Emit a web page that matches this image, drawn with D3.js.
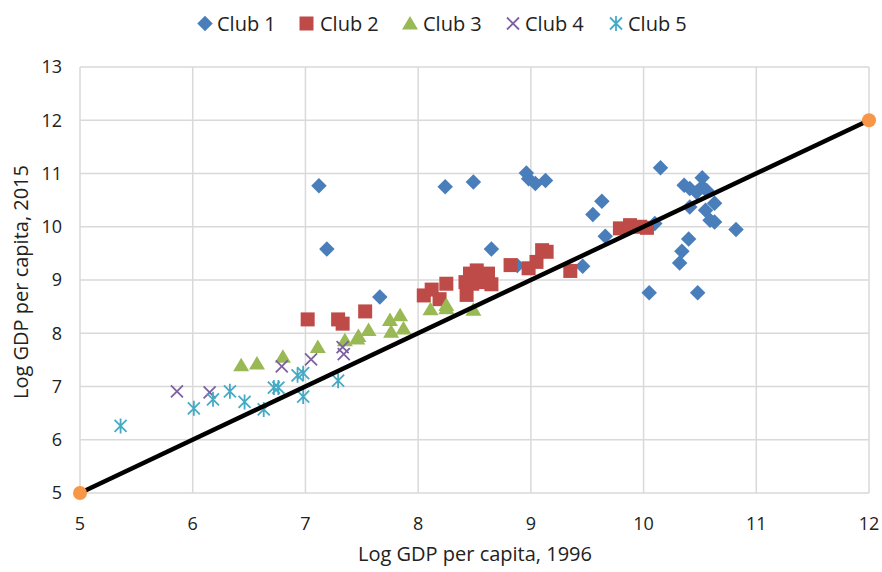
<!DOCTYPE html>
<html>
<head>
<meta charset="utf-8">
<script src="https://cdn.jsdelivr.net/npm/d3@7"></script>
<style>
  body { margin: 0; background: #fff; }
  text { font-family: 'Open Sans', sans-serif; fill: #222; }
</style>
</head>
<body>
<svg id="chart" width="882" height="572"></svg>
<script>
// values (log GDP per capita, 1996 -> 2015)
const club1X = [7.66, 7.12, 7.19, 8.24, 8.49, 8.65, 8.96, 8.98, 9.04, 9.13, 8.88, 9.46, 9.55, 9.63, 9.66, 10.15, 10.05, 10.10, 10.36, 10.41, 10.47, 10.52, 10.52, 10.56, 10.41, 10.63, 10.55, 10.59, 10.63, 10.82, 10.40, 10.34, 10.32, 10.48]
const club1Y = [8.68, 10.77, 9.58, 10.75, 10.84, 9.58, 11.01, 10.90, 10.81, 10.87, 9.27, 9.26, 10.23, 10.48, 9.82, 11.11, 8.76, 10.06, 10.78, 10.72, 10.65, 10.92, 10.75, 10.68, 10.37, 10.44, 10.31, 10.12, 10.09, 9.95, 9.77, 9.54, 9.32, 8.76]

const club2X = [7.02, 7.29, 7.33, 7.53, 8.05, 8.12, 8.19, 8.25, 8.43, 8.42, 8.46, 8.52, 8.58, 8.62, 8.48, 8.55, 8.65, 8.82, 8.98, 9.05, 9.10, 9.14, 9.35, 9.79, 9.88, 9.97, 10.03]
const club2Y = [8.26, 8.26, 8.18, 8.41, 8.71, 8.82, 8.64, 8.93, 8.72, 8.96, 9.12, 9.18, 9.09, 9.12, 8.93, 8.96, 8.92, 9.28, 9.22, 9.34, 9.56, 9.53, 9.17, 9.97, 10.03, 10.00, 9.98]

const club3X = [6.43, 6.57, 6.80, 7.11, 7.35, 7.46, 7.47, 7.56, 7.75, 7.76, 7.84, 7.87, 8.11, 8.25, 8.25, 8.49]
const club3Y = [7.40, 7.43, 7.56, 7.74, 7.87, 7.90, 7.95, 8.06, 8.25, 8.03, 8.34, 8.09, 8.45, 8.53, 8.47, 8.44]

const club4X = [5.86, 6.15, 6.79, 7.05, 7.33, 7.34]
const club4Y = [6.91, 6.89, 7.38, 7.51, 7.74, 7.61]

const club5X = [5.36, 6.01, 6.18, 6.33, 6.46, 6.63, 6.72, 6.76, 6.93, 6.98, 6.98, 7.29]
const club5Y = [6.26, 6.59, 6.76, 6.91, 6.71, 6.57, 6.98, 6.98, 7.21, 7.25, 6.81, 7.11]

const lineX = [5, 12]
const lineY = [5, 12]

const xTicks = [5, 6, 7, 8, 9, 10, 11, 12]
const yTicks = [5, 6, 7, 8, 9, 10, 11, 12, 13]

const clubNames = ['Club 1', 'Club 2', 'Club 3', 'Club 4', 'Club 5']

const svg = d3.select('#chart')
const plotL = 80, plotR = 869, plotT = 67, plotB = 493

const x = d3.scaleLinear().domain([5, 12]).range([plotL, plotR])
const y = d3.scaleLinear().domain([5, 13]).range([plotB, plotT])

// grid
svg.append('g')
  .selectAll('line')
  .data(yTicks)
  .join('line')
  .attr('x1', plotL).attr('x2', plotR)
  .attr('y1', d => y(d)).attr('y2', d => y(d))
  .attr('stroke', '#d9d9d9').attr('stroke-width', 1.5)

svg.append('g')
  .selectAll('line')
  .data(xTicks)
  .join('line')
  .attr('x1', d => x(d)).attr('x2', d => x(d))
  .attr('y1', plotT).attr('y2', plotB)
  .attr('stroke', '#d9d9d9').attr('stroke-width', 1.5)

// tick labels
svg.append('g')
  .selectAll('text')
  .data(yTicks)
  .join('text')
  .attr('x', plotL - 18)
  .attr('y', d => y(d))
  .attr('dy', '0.35em')
  .attr('text-anchor', 'end')
  .style('font-size', '18px')
  .text(d => d)

svg.append('g')
  .selectAll('text')
  .data(xTicks)
  .join('text')
  .attr('x', d => x(d))
  .attr('y', plotB + 31)
  .attr('dy', '0.35em')
  .attr('text-anchor', 'middle')
  .style('font-size', '18px')
  .text(d => d)

svg.append('text')
  .attr('x', 475)
  .attr('y', 554)
  .attr('dy', '0.35em')
  .attr('text-anchor', 'middle')
  .style('font-size', '20px')
  .text('Log GDP per capita, 1996')

svg.append('text')
  .attr('transform', `translate(21, ${(plotT + plotB) / 2 + 2}) rotate(-90)`)
  .attr('dy', '0.35em')
  .attr('text-anchor', 'middle')
  .style('font-size', '20px')
  .text('Log GDP per capita, 2015')

// marker drawers
const colors = ['#4a7ebb', '#be4b48', '#98b954', '#7d60a0', '#46aac5']

function marker (g, i) {
  if (i === 0) {
    g.append('path').attr('d', d3.symbol(d3.symbolSquare, 120)())
      .attr('transform', 'rotate(45)').attr('fill', colors[0])
  } else if (i === 1) {
    g.append('path').attr('d', d3.symbol(d3.symbolSquare, 196)()).attr('fill', colors[1])
  } else if (i === 2) {
    g.append('path').attr('d', 'M0,-7.5L8,6L-8,6Z').attr('fill', colors[2])
  } else if (i === 3) {
    g.append('path').attr('d', 'M-6,-6L6,6M-6,6L6,-6')
      .attr('stroke', colors[3]).attr('stroke-width', 1.8).attr('fill', 'none')
  } else {
    g.append('path').attr('d', 'M-6,-6L6,6M-6,6L6,-6M0,-7.5L0,7.5')
      .attr('stroke', colors[4]).attr('stroke-width', 1.8).attr('fill', 'none')
  }
}

const series = [
  [club1X, club1Y], [club2X, club2Y], [club3X, club3Y], [club4X, club4Y], [club5X, club5Y]
]

series.forEach(([xs, ys], i) => {
  const pts = xs.map((v, k) => [v, ys[k]])
  svg.append('g')
    .selectAll('g')
    .data(pts)
    .join('g')
    .attr('transform', d => `translate(${x(d[0])},${y(d[1])})`)
    .each(function () { marker(d3.select(this), i) })
})

// 45 degree line
const linePts = lineX.map((v, k) => [v, lineY[k]])
svg.append('path')
  .attr('d', d3.line().x(d => x(d[0])).y(d => y(d[1]))(linePts))
  .attr('stroke', '#000').attr('stroke-width', 4.5).attr('fill', 'none')

svg.append('g')
  .selectAll('circle')
  .data(linePts)
  .join('circle')
  .attr('cx', d => x(d[0])).attr('cy', d => y(d[1]))
  .attr('r', 7).attr('fill', '#f79646')

// legend
const legendMarkX = [205, 306.5, 410, 513, 616]
const legendTextX = [217, 320, 423, 525, 628]
const legend = svg.append('g')
clubNames.forEach((name, i) => {
  const g = legend.append('g').attr('transform', `translate(${legendMarkX[i]}, 23.5)`)
  marker(g, i)
  legend.append('text')
    .attr('x', legendTextX[i]).attr('y', 23.5).attr('dy', '0.35em')
    .style('font-size', '20px').text(name)
})
</script>
</body>
</html>
